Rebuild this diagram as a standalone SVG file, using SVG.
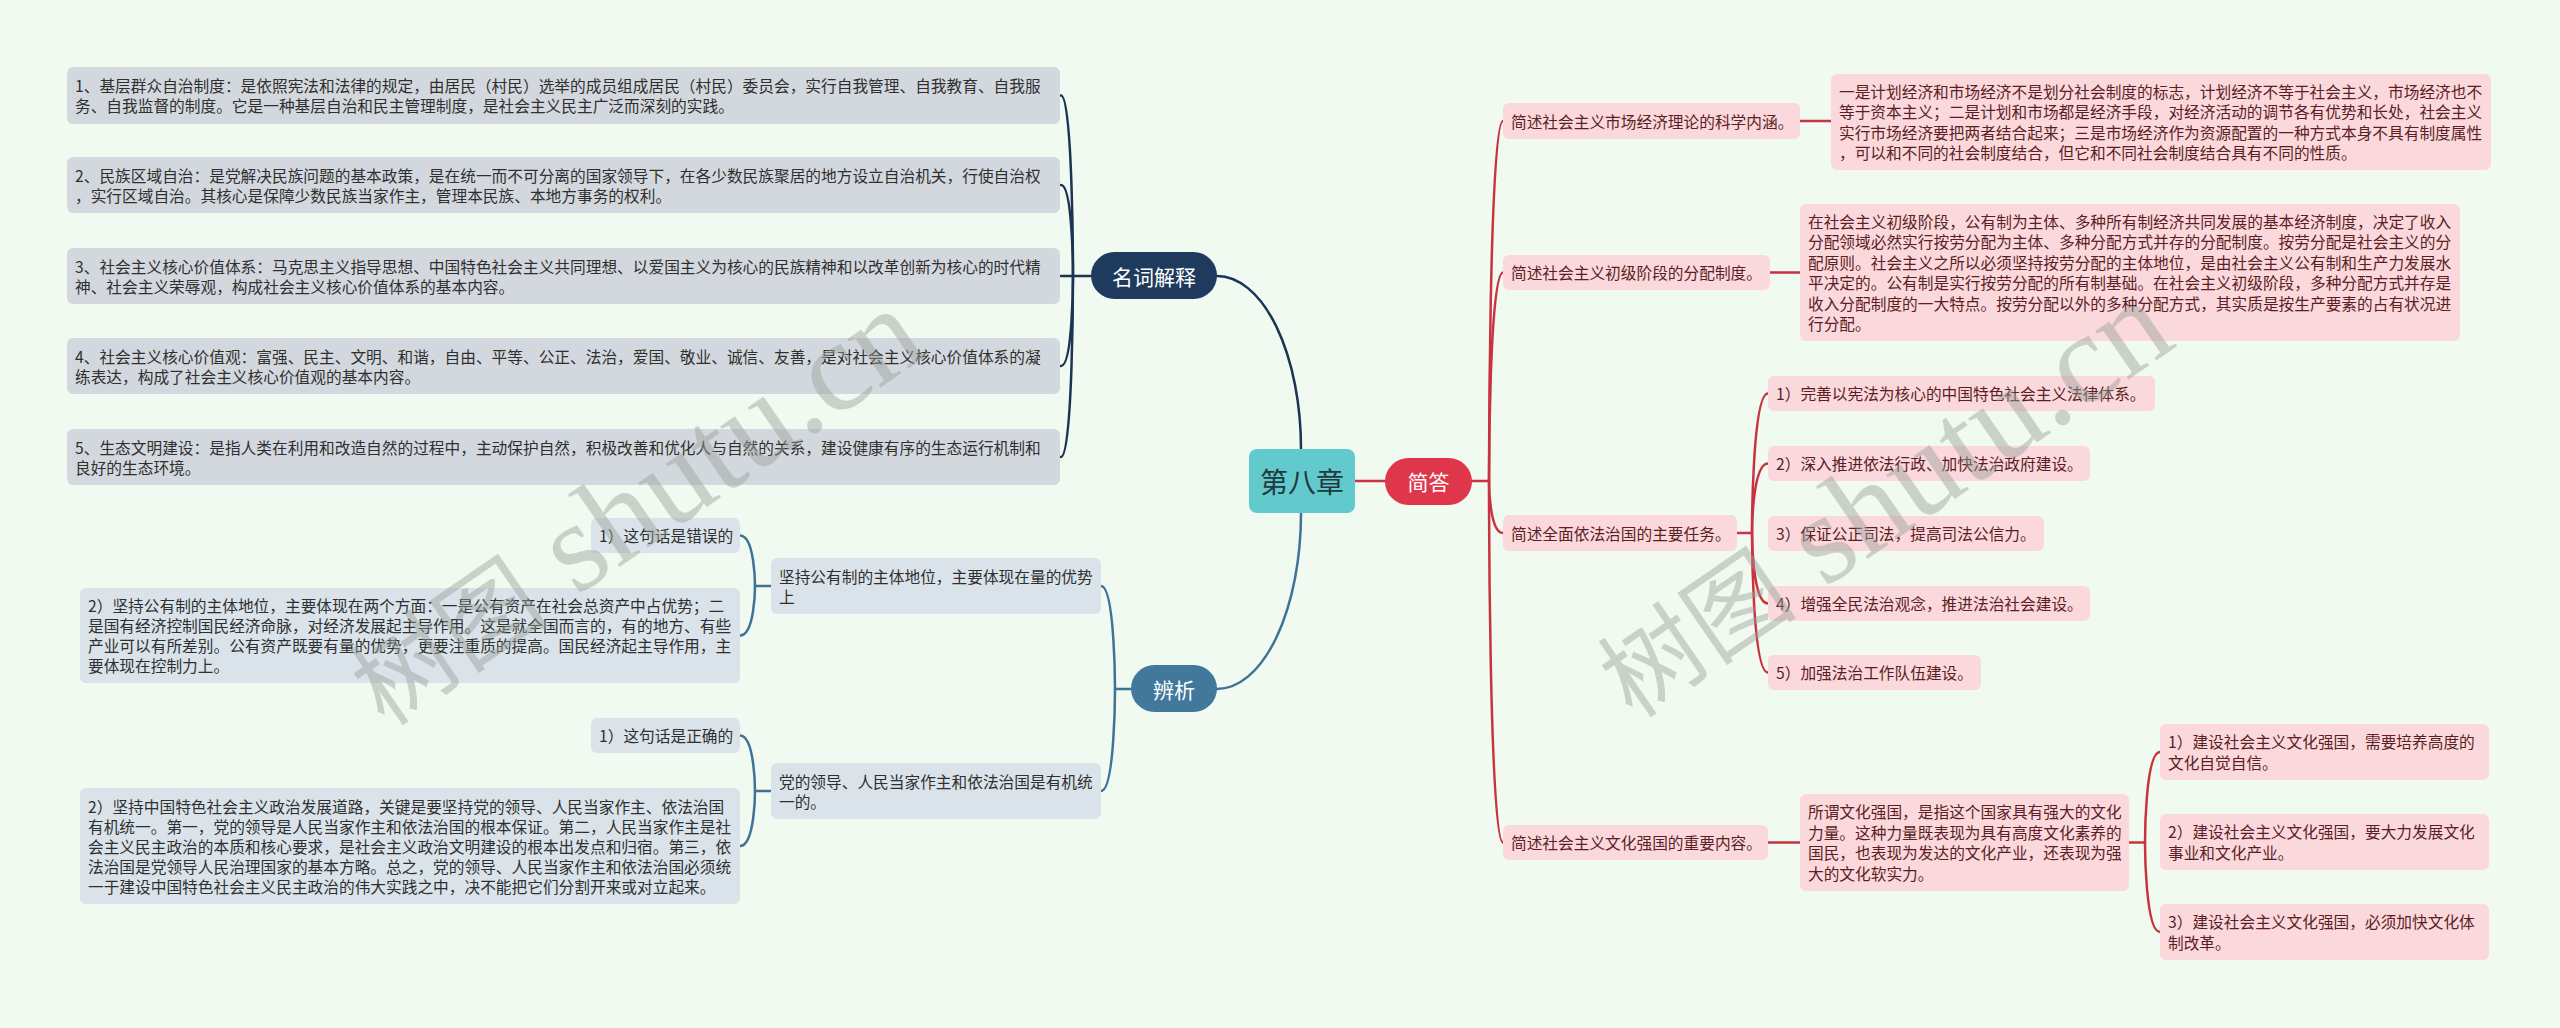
<svg xmlns="http://www.w3.org/2000/svg" width="2560" height="1028" viewBox="0 0 2560 1028">
<style>
.t{font-family:"Noto Sans CJK SC","Microsoft YaHei",sans-serif;font-size:15.7px;fill:#2f2f2f;dominant-baseline:central}
.pt{fill:#5a1e24}
.lb{fill:#d3d8de}
.db{fill:#dae3ea}
.pb{fill:#fbd8dc}
.big{font-family:"Noto Sans CJK SC","Microsoft YaHei",sans-serif;font-size:21px;fill:#ffffff;text-anchor:middle;dominant-baseline:central}
.c{fill:none;stroke-linecap:round}
.navy{stroke:#1c3354;stroke-width:2.5}
.steel{stroke:#3f7396;stroke-width:2.5}
.red{stroke:#c9323f;stroke-width:2.5}
.wm{font-family:"Liberation Serif","Noto Sans CJK SC",serif;fill:#9aa09a;opacity:0.45}
</style>
<rect width="2560" height="1028" fill="#f1faf0"/>

<g id="connectors">
<path class="c navy" d="M1217,276 A84,173 0 0 1 1301,449"/>
<path class="c steel" d="M1217,689 A84,176 0 0 0 1301,513"/>
<path class="c red" d="M1355,481 L1385,481"/>
<path class="c red" d="M1472,481 L1489,481"/>
<path class="c red" d="M1503,121 C1489,121 1489,481 1489,481"/>
<path class="c red" d="M1503,272.5 C1489,272.5 1489,481 1489,481"/>
<path class="c red" d="M1503,533 C1489,533 1489,481 1489,481"/>
<path class="c red" d="M1503,842.5 C1489,842.5 1489,481 1489,481"/>
<path class="c red" d="M1800,121 L1831,121" stroke-width="3"/>
<path class="c red" d="M1770,272.5 L1800,272.5" stroke-width="3"/>
<path class="c red" d="M1768,842.5 L1800,842.5" stroke-width="3"/>
<path class="c red" d="M1737,533 L1752,533" stroke-width="3"/>
<path class="c red" d="M1768,393.5 C1752,393.5 1752,533 1752,533"/>
<path class="c red" d="M1768,463.5 C1752,463.5 1752,533 1752,533"/>
<path class="c red" d="M1768,603.5 C1752,603.5 1752,533 1752,533"/>
<path class="c red" d="M1768,672.5 C1752,672.5 1752,533 1752,533"/>
<path class="c red" d="M2129,842.5 L2145,842.5" stroke-width="3"/>
<path class="c red" d="M2160,752 C2145,752 2145,842.5 2145,842.5"/>
<path class="c red" d="M2160,932 C2145,932 2145,842.5 2145,842.5"/>
<path class="c navy" d="M1091,276 L1061,276"/>
<path class="c navy" d="M1061,95.5 C1073,95.5 1073,276 1073,276"/>
<path class="c navy" d="M1061,185 C1073,185 1073,276 1073,276"/>
<path class="c navy" d="M1061,366 C1073,366 1073,276 1073,276"/>
<path class="c navy" d="M1061,457 C1073,457 1073,276 1073,276"/>
<path class="c steel" d="M1131,689 L1115,689"/>
<path class="c steel" d="M1101,586 C1115,586 1115,689 1115,689"/>
<path class="c steel" d="M1101,791 C1115,791 1115,689 1115,689"/>
<path class="c steel" d="M771,586 L755,586"/>
<path class="c steel" d="M740,535.5 C755,535.5 755,586 755,586"/>
<path class="c steel" d="M740,635.5 C755,635.5 755,586 755,586"/>
<path class="c steel" d="M771,791 L755,791"/>
<path class="c steel" d="M740,735.5 C755,735.5 755,791 755,791"/>
<path class="c steel" d="M740,846 C755,846 755,791 755,791"/>
</g>

<g id="root">
<rect x="1249" y="449" width="106" height="64" rx="8" fill="#62c9cc"/>
<text x="1302" y="481" font-family="Noto Sans CJK SC, sans-serif" font-size="28" fill="#1f3a3c" text-anchor="middle" dominant-baseline="central">第八章</text>
</g>

<g id="mingci">
<rect x="1091" y="252" width="126" height="47" rx="23.5" fill="#1e3a5c"/>
<text class="big" x="1154" y="275.5">名词解释</text>
</g>
<g id="bianxi">
<rect x="1131" y="665" width="86" height="47" rx="23.5" fill="#41789c"/>
<text class="big" x="1174" y="688.5">辨析</text>
</g>
<g id="jianda">
<rect x="1385" y="458" width="87" height="47" rx="23.5" fill="#e0364b"/>
<text class="big" x="1428.5" y="481">简答</text>
</g>

<g id="l1"><rect class="lb" x="67" y="67" width="993" height="57" rx="6"/>
<text class="t" x="75" y="85.5">1、基层群众自治制度：是依照宪法和法律的规定，由居民（村民）选举的成员组成居民（村民）委员会，实行自我管理、自我教育、自我服</text>
<text class="t" x="75" y="105.5">务、自我监督的制度。它是一种基层自治和民主管理制度，是社会主义民主广泛而深刻的实践。</text></g>
<g id="l2"><rect class="lb" x="67" y="157" width="993" height="56" rx="6"/>
<text class="t" x="75" y="175">2、民族区域自治：是党解决民族问题的基本政策，是在统一而不可分离的国家领导下，在各少数民族聚居的地方设立自治机关，行使自治权</text>
<text class="t" x="75" y="195">，实行区域自治。其核心是保障少数民族当家作主，管理本民族、本地方事务的权利。</text></g>
<g id="l3"><rect class="lb" x="67" y="248" width="993" height="56" rx="6"/>
<text class="t" x="75" y="266">3、社会主义核心价值体系：马克思主义指导思想、中国特色社会主义共同理想、以爱国主义为核心的民族精神和以改革创新为核心的时代精</text>
<text class="t" x="75" y="286">神、社会主义荣辱观，构成社会主义核心价值体系的基本内容。</text></g>
<g id="l4"><rect class="lb" x="67" y="338" width="993" height="56" rx="6"/>
<text class="t" x="75" y="356">4、社会主义核心价值观：富强、民主、文明、和谐，自由、平等、公正、法治，爱国、敬业、诚信、友善，是对社会主义核心价值体系的凝</text>
<text class="t" x="75" y="376">练表达，构成了社会主义核心价值观的基本内容。</text></g>
<g id="l5"><rect class="lb" x="67" y="429" width="993" height="56" rx="6"/>
<text class="t" x="75" y="447">5、生态文明建设：是指人类在利用和改造自然的过程中，主动保护自然，积极改善和优化人与自然的关系，建设健康有序的生态运行机制和</text>
<text class="t" x="75" y="467">良好的生态环境。</text></g>

<g id="bA"><rect class="db" x="771" y="558" width="330" height="56" rx="6"/>
<text class="t" x="779" y="576">坚持公有制的主体地位，主要体现在量的优势</text>
<text class="t" x="779" y="596">上</text></g>
<g id="bA1"><rect class="db" x="591" y="518" width="149" height="35" rx="6"/>
<text class="t" x="599" y="535.5">1）这句话是错误的</text></g>
<g id="bA2"><rect class="db" x="80" y="588" width="660" height="95" rx="6"/>
<text class="t" x="88" y="605.5">2）坚持公有制的主体地位，主要体现在两个方面：一是公有资产在社会总资产中占优势；二</text>
<text class="t" x="88" y="625.5">是国有经济控制国民经济命脉，对经济发展起主导作用。这是就全国而言的，有的地方、有些</text>
<text class="t" x="88" y="645.5">产业可以有所差别。公有资产既要有量的优势，更要注重质的提高。国民经济起主导作用，主</text>
<text class="t" x="88" y="665.5">要体现在控制力上。</text></g>
<g id="bB"><rect class="db" x="771" y="763" width="330" height="56" rx="6"/>
<text class="t" x="779" y="781">党的领导、人民当家作主和依法治国是有机统</text>
<text class="t" x="779" y="801">一的。</text></g>
<g id="bB1"><rect class="db" x="591" y="718" width="149" height="35" rx="6"/>
<text class="t" x="599" y="735.5">1）这句话是正确的</text></g>
<g id="bB2"><rect class="db" x="80" y="788" width="660" height="116" rx="6"/>
<text class="t" x="88" y="806">2）坚持中国特色社会主义政治发展道路，关键是要坚持党的领导、人民当家作主、依法治国</text>
<text class="t" x="88" y="826">有机统一。第一，党的领导是人民当家作主和依法治国的根本保证。第二，人民当家作主是社</text>
<text class="t" x="88" y="846">会主义民主政治的本质和核心要求，是社会主义政治文明建设的根本出发点和归宿。第三，依</text>
<text class="t" x="88" y="866">法治国是党领导人民治理国家的基本方略。总之，党的领导、人民当家作主和依法治国必须统</text>
<text class="t" x="88" y="886">一于建设中国特色社会主义民主政治的伟大实践之中，决不能把它们分割开来或对立起来。</text></g>

<g id="r1"><rect class="pb" x="1503" y="103" width="297" height="36" rx="6"/>
<text class="t pt" x="1511" y="121">简述社会主义市场经济理论的科学内涵。</text></g>
<g id="r1a"><rect class="pb" x="1831" y="74" width="660" height="96" rx="6"/>
<text class="t pt" x="1839" y="91.25">一是计划经济和市场经济不是划分社会制度的标志，计划经济不等于社会主义，市场经济也不</text>
<text class="t pt" x="1839" y="111.75">等于资本主义；二是计划和市场都是经济手段，对经济活动的调节各有优势和长处，社会主义</text>
<text class="t pt" x="1839" y="132.25">实行市场经济要把两者结合起来；三是市场经济作为资源配置的一种方式本身不具有制度属性</text>
<text class="t pt" x="1839" y="152.75">，可以和不同的社会制度结合，但它和不同社会制度结合具有不同的性质。</text></g>
<g id="r2"><rect class="pb" x="1503" y="255" width="267" height="35" rx="6"/>
<text class="t pt" x="1511" y="272.5">简述社会主义初级阶段的分配制度。</text></g>
<g id="r2a"><rect class="pb" x="1800" y="204" width="660" height="137" rx="6"/>
<text class="t pt" x="1808" y="221.25">在社会主义初级阶段，公有制为主体、多种所有制经济共同发展的基本经济制度，决定了收入</text>
<text class="t pt" x="1808" y="241.75">分配领域必然实行按劳分配为主体、多种分配方式并存的分配制度。按劳分配是社会主义的分</text>
<text class="t pt" x="1808" y="262.25">配原则。社会主义之所以必须坚持按劳分配的主体地位，是由社会主义公有制和生产力发展水</text>
<text class="t pt" x="1808" y="282.75">平决定的。公有制是实行按劳分配的所有制基础。在社会主义初级阶段，多种分配方式并存是</text>
<text class="t pt" x="1808" y="303.25">收入分配制度的一大特点。按劳分配以外的多种分配方式，其实质是按生产要素的占有状况进</text>
<text class="t pt" x="1808" y="323.75">行分配。</text></g>
<g id="r3"><rect class="pb" x="1503" y="515" width="234" height="36" rx="6"/>
<text class="t pt" x="1511" y="533">简述全面依法治国的主要任务。</text></g>
<g id="r3a"><rect class="pb" x="1768" y="376" width="387" height="35" rx="6"/>
<text class="t pt" x="1776" y="393.5">1）完善以宪法为核心的中国特色社会主义法律体系。</text></g>
<g id="r3b"><rect class="pb" x="1768" y="446" width="322" height="35" rx="6"/>
<text class="t pt" x="1776" y="463.5">2）深入推进依法行政、加快法治政府建设。</text></g>
<g id="r3c"><rect class="pb" x="1768" y="516" width="276" height="35" rx="6"/>
<text class="t pt" x="1776" y="533.5">3）保证公正司法，提高司法公信力。</text></g>
<g id="r3d"><rect class="pb" x="1768" y="586" width="322" height="35" rx="6"/>
<text class="t pt" x="1776" y="603.5">4）增强全民法治观念，推进法治社会建设。</text></g>
<g id="r3e"><rect class="pb" x="1768" y="655" width="213" height="35" rx="6"/>
<text class="t pt" x="1776" y="672.5">5）加强法治工作队伍建设。</text></g>
<g id="r4"><rect class="pb" x="1503" y="825" width="265" height="35" rx="6"/>
<text class="t pt" x="1511" y="842.5">简述社会主义文化强国的重要内容。</text></g>
<g id="r4a"><rect class="pb" x="1800" y="794" width="329" height="97" rx="6"/>
<text class="t pt" x="1808" y="811.75">所谓文化强国，是指这个国家具有强大的文化</text>
<text class="t pt" x="1808" y="832.25">力量。这种力量既表现为具有高度文化素养的</text>
<text class="t pt" x="1808" y="852.75">国民，也表现为发达的文化产业，还表现为强</text>
<text class="t pt" x="1808" y="873.25">大的文化软实力。</text></g>
<g id="r4a1"><rect class="pb" x="2160" y="724" width="329" height="56" rx="6"/>
<text class="t pt" x="2168" y="741.75">1）建设社会主义文化强国，需要培养高度的</text>
<text class="t pt" x="2168" y="762.25">文化自觉自信。</text></g>
<g id="r4a2"><rect class="pb" x="2160" y="814" width="329" height="56" rx="6"/>
<text class="t pt" x="2168" y="831.75">2）建设社会主义文化强国，要大力发展文化</text>
<text class="t pt" x="2168" y="852.25">事业和文化产业。</text></g>
<g id="r4a3"><rect class="pb" x="2160" y="904" width="329" height="56" rx="6"/>
<text class="t pt" x="2168" y="921.75">3）建设社会主义文化强国，必须加快文化体</text>
<text class="t pt" x="2168" y="942.25">制改革。</text></g>

<g id="watermark">
<text class="wm" transform="translate(385,728) rotate(-34.5)"><tspan font-size="100">树图</tspan><tspan font-size="128"> shutu.cn</tspan></text>
<text class="wm" transform="translate(1633,720) rotate(-34.5)"><tspan font-size="100">树图</tspan><tspan font-size="128"> shutu.cn</tspan></text>
</g>
</svg>
